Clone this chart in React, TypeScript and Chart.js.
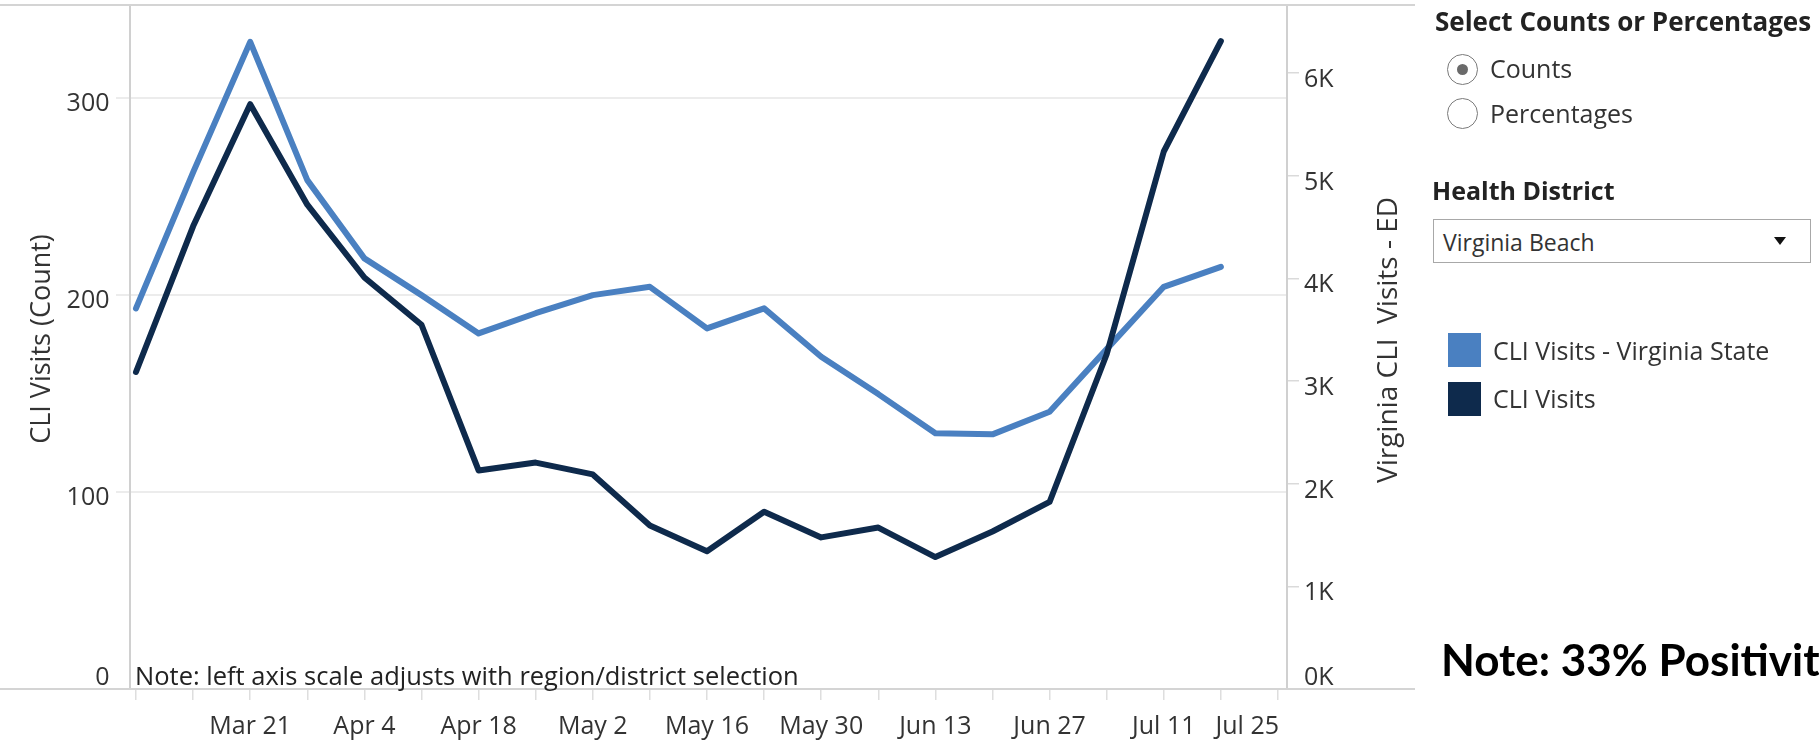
import React, { useEffect, useRef } from "react";
import { Chart, registerables } from "chart.js";

Chart.register(...registerables);

// ---- Data ----
const weekLabels = [
  "Mar 7", "Mar 14", "Mar 21", "Mar 28", "Apr 4", "Apr 11", "Apr 18", "Apr 25",
  "May 2", "May 9", "May 16", "May 23", "May 30", "Jun 6", "Jun 13", "Jun 20",
  "Jun 27", "Jul 4", "Jul 11", "Jul 18", "Jul 25",
];
// CLI Visits (left axis, district count)
const cliVisits = [161, 235, 297, 246, 209, 185, 111, 115, 109, 83, 70, 90, 77, 82, 67, 80, 95, 170, 273, 329];
// CLI Visits - Virginia State (right axis, ED visits)
const stateVisits = [3707, 5031, 6303, 4956, 4194, 3836, 3463, 3660, 3836, 3917, 3512, 3707, 3236, 2872, 2490, 2480, 2700, 3310, 3917, 4112];
const leftTicks = [0, 100, 200, 300];
const leftTickLabels = ["0", "100", "200", "300"];
const rightTicks = [0, 1000, 2000, 3000, 4000, 5000, 6000];
const rightTickLabels = ["0K", "1K", "2K", "3K", "4K", "5K", "6K"];
const leftMax = 346.9;
const rightMax = 6652;

const FONT = '"Open Sans", sans-serif';
const TEXT = "#333333";
const LIGHT_BLUE = "#4a80c1";
const DARK_BLUE = "#0e2a4c";

const decorPlugin = {
  id: "decor",
  afterDraw(chart: any) {
    const ctx = chart.ctx as CanvasRenderingContext2D;
    const area = chart.chartArea;
    const xs = chart.scales.x;
    const yl = chart.scales.y;
    const yr = chart.scales.y1;
    ctx.save();
    // top and bottom frame lines
    ctx.strokeStyle = "#d4d4d4";
    ctx.lineWidth = 2;
    ctx.beginPath();
    ctx.moveTo(0, area.top - 1);
    ctx.lineTo(1415, area.top - 1);
    ctx.moveTo(0, area.bottom);
    ctx.lineTo(1415, area.bottom);
    ctx.stroke();

    const capOff = 25 * 0.357;
    // y tick labels
    ctx.fillStyle = TEXT;
    ctx.font = `25px ${FONT}`;
    ctx.textBaseline = "alphabetic";
    ctx.textAlign = "right";
    leftTicks.forEach((v, i) => {
      const py = yl.getPixelForValue(v);
      const cy = v === 0 ? py - 12.5 : py + 4;
      ctx.fillText(leftTickLabels[i], area.left - 20.5, cy + capOff);
    });
    ctx.textAlign = "left";
    rightTicks.forEach((v, i) => {
      const py = yr.getPixelForValue(v);
      const cy = v === 0 ? py - 12.5 : py + 5;
      ctx.fillText(rightTickLabels[i], area.right + 17, cy + capOff);
    });

    // x labels (every two weeks)
    weekLabels.forEach((lab, i) => {
      if (i < 2 || i % 2 !== 0) return;
      const px = xs.getPixelForValue(i);
      if (i === weekLabels.length - 1) {
        ctx.textAlign = "right";
        ctx.fillText(lab, px + 1, 734);
      } else {
        ctx.textAlign = "center";
        ctx.fillText(lab, px, 734);
      }
    });

    // note inside plot
    ctx.textAlign = "left";
    ctx.font = `25.5px ${FONT}`;
    ctx.fillStyle = "#222";
    ctx.fillText("Note: left axis scale adjusts with region/district selection", area.left + 5, 685);

    // axis titles
    ctx.fillStyle = TEXT;
    ctx.textAlign = "center";
    ctx.font = `27px ${FONT}`;
    ctx.save();
    ctx.translate(50, 339);
    ctx.rotate(-Math.PI / 2);
    ctx.fillText("CLI Visits (Count)", 0, 0);
    ctx.restore();
    ctx.font = `28px ${FONT}`;
    ctx.save();
    ctx.translate(1397, 340);
    ctx.rotate(-Math.PI / 2);
    ctx.fillText("Virginia CLI  Visits - ED", 0, 0);
    ctx.restore();
    ctx.restore();
  },
};

function ChartCanvas() {
  const ref = useRef<HTMLCanvasElement | null>(null);
  useEffect(() => {
    if (!ref.current) return;
    const chart = new Chart(ref.current, {
      type: "line",
      data: {
        datasets: [
          {
            label: "CLI Visits",
            data: cliVisits.map((v, i) => ({ x: i, y: v })),
            borderColor: DARK_BLUE,
            backgroundColor: DARK_BLUE,
            borderWidth: 6,
            pointRadius: 0,
            tension: 0,
            yAxisID: "y",
            borderJoinStyle: "round",
            borderCapStyle: "round",
          },
          {
            label: "CLI Visits - Virginia State",
            data: stateVisits.map((v, i) => ({ x: i, y: v })),
            borderColor: LIGHT_BLUE,
            backgroundColor: LIGHT_BLUE,
            borderWidth: 6,
            pointRadius: 0,
            tension: 0,
            yAxisID: "y1",
            borderJoinStyle: "round",
            borderCapStyle: "round",
          },
        ],
      },
      options: {
        responsive: false,
        maintainAspectRatio: false,
        devicePixelRatio: 1,
        animation: false,
        layout: { padding: { top: 6, left: 0, right: 0, bottom: 0 } },
        plugins: { legend: { display: false }, tooltip: { enabled: false } },
        scales: {
          x: {
            type: "linear",
            min: -0.105,
            max: 20.158,
            position: "bottom",
            border: { display: false },
            grid: { drawOnChartArea: false, drawTicks: true, tickLength: 11, color: "#dedede", lineWidth: 1.5 },
            ticks: { display: false },
            afterBuildTicks: (s: any) => {
              s.ticks = weekLabels.map((_, i) => ({ value: i }));
            },
            afterFit: (s: any) => {
              s.height = 51;
              s.paddingLeft = 0;
              s.paddingRight = 0;
            },
          },
          y: {
            type: "linear",
            position: "left",
            min: 0,
            max: leftMax,
            border: { display: true, color: "#d0d0d0", width: 2 },
            grid: { color: "#ececec", lineWidth: 2, tickLength: 14, drawTicks: true },
            ticks: { display: false },
            afterBuildTicks: (s: any) => {
              s.ticks = leftTicks.map((v) => ({ value: v }));
            },
            afterFit: (s: any) => {
              s.width = 130;
              s.paddingTop = 0;
              s.paddingBottom = 0;
            },
          },
          y1: {
            type: "linear",
            position: "right",
            min: 0,
            max: rightMax,
            border: { display: true, color: "#d0d0d0", width: 2 },
            grid: { drawOnChartArea: false, color: "#dadada", lineWidth: 1.5, tickLength: 12 },
            ticks: { display: false },
            afterBuildTicks: (s: any) => {
              s.ticks = rightTicks.map((v) => ({ value: v }));
            },
            afterFit: (s: any) => {
              s.width = 532;
              s.paddingTop = 0;
              s.paddingBottom = 0;
            },
          },
        },
      },
      plugins: [decorPlugin],
    } as any);
    return () => chart.destroy();
  }, []);
  return (
    <canvas
      ref={ref}
      width={1819}
      height={740}
      style={{ position: "absolute", left: 0, top: 0, width: 1819, height: 740 }}
    />
  );
}

const abs = (left: number, top: number, extra: React.CSSProperties = {}): React.CSSProperties => ({
  position: "absolute",
  left,
  top,
  whiteSpace: "nowrap",
  fontFamily: FONT,
  fontSize: 25,
  lineHeight: "30px",
  color: TEXT,
  ...extra,
});

function Radio({ cx, cy, checked }: { cx: number; cy: number; checked: boolean }) {
  return (
    <div
      style={{
        position: "absolute",
        left: cx - 16,
        top: cy - 16,
        width: 29,
        height: 29,
        borderRadius: "50%",
        border: "1.5px solid #7a7a7a",
        background: "#fff",
      }}
    >
      {checked && (
        <div
          style={{
            position: "absolute",
            left: 9,
            top: 9,
            width: 11,
            height: 11,
            borderRadius: "50%",
            background: "#6a6a6a",
          }}
        />
      )}
    </div>
  );
}

export default function App() {
  return (
    <div
      style={{
        position: "fixed",
        left: 0,
        top: 0,
        width: 1819,
        height: 740,
        overflow: "hidden",
        background: "#ffffff",
      }}
    >
      <ChartCanvas />
      {/* controls */}
      <div style={abs(1435, 6, { fontWeight: 700, fontSize: 26, color: "#222" })}>Select Counts or Percentages</div>
      <Radio cx={1463} cy={70} checked={true} />
      <div style={abs(1490, 53)}>Counts</div>
      <Radio cx={1463} cy={114} checked={false} />
      <div style={abs(1490, 98)}>Percentages</div>
      <div style={abs(1432, 175, { fontWeight: 700, color: "#222" })}>Health District</div>
      <div
        style={{
          position: "absolute",
          left: 1433,
          top: 219,
          width: 376,
          height: 42,
          border: "1.5px solid #a8a8a8",
          background: "#fff",
        }}
      />
      <div style={abs(1443, 227, { fontSize: 23 })}>Virginia Beach</div>
      <div
        style={{
          position: "absolute",
          left: 1774,
          top: 237,
          width: 0,
          height: 0,
          borderLeft: "6.5px solid transparent",
          borderRight: "6.5px solid transparent",
          borderTop: "8px solid #111",
        }}
      />
      {/* legend */}
      <div style={{ position: "absolute", left: 1448, top: 333, width: 33, height: 34, background: LIGHT_BLUE }} />
      <div style={abs(1493, 335)}>CLI Visits - Virginia State</div>
      <div style={{ position: "absolute", left: 1448, top: 382, width: 33, height: 34, background: DARK_BLUE }} />
      <div style={abs(1493, 383)}>CLI Visits</div>
      {/* big note */}
      <div
        style={{
          position: "absolute",
          left: 1441,
          top: 633,
          whiteSpace: "nowrap",
          fontFamily: "Lato, sans-serif",
          fontWeight: 700,
          fontSize: 44,
          lineHeight: "53px",
          color: "#000",
        }}
      >
        Note: 33% Positivity
      </div>
    </div>
  );
}
